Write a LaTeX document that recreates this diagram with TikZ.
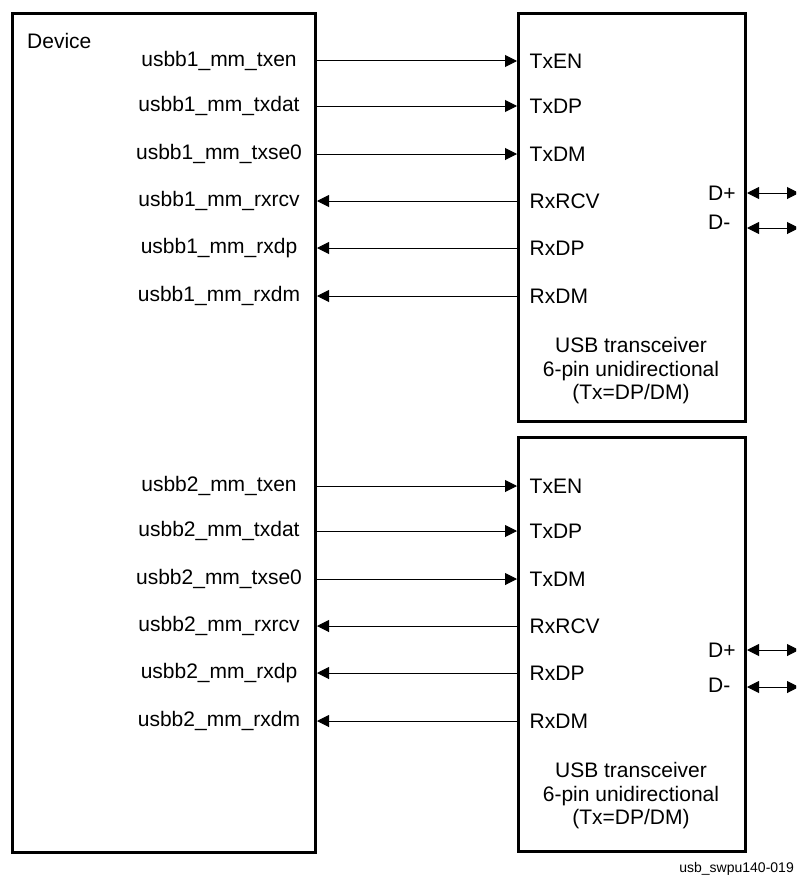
\documentclass[tikz,border=0pt]{standalone}
\usepackage{fontspec}
\setmainfont{Liberation Sans}
\usetikzlibrary{arrows.meta,positioning,calc}

\begin{document}
\begin{tikzpicture}[x=1pt,y=-1pt,
    box/.style={draw,line width=3pt,anchor=north west,inner sep=0pt,outer sep=1.5pt},
    txt/.style={font=\fontsize{21}{23.5}\selectfont,inner sep=0pt},
    pin/.style={txt,anchor=west,inner xsep=12.5pt},
    conn/.style={line width=1pt},
    tx/.style={conn,-{Triangle[length=12pt,width=12pt]}},
    rx/.style={conn,{Triangle[length=12pt,width=12pt]}-},
    bi/.style={conn,{Triangle[length=12pt,width=12pt]}-{Triangle[length=12pt,width=12pt]}}
  ]
  \useasboundingbox (0,0) rectangle (796,875);
  \clip (0,0) rectangle (796,875);
  \node[box,minimum width=303pt,minimum height=839pt] (Dev) at (11,12) {};
  \node[box,minimum width=227pt,minimum height=408pt] (T1) at (517,12) {};
  \node[box,minimum width=227pt,minimum height=414pt] (T2) at (517,436) {};
  \node[txt,anchor=west] (DevLbl) at (27,41) {Device};
  % signals of both transceivers
  \foreach \k/\off in {1/0,2/425} {
    \foreach \sig/\pn/\y/\dir in {txen/TxEN/61/tx,txdat/TxDP/106/tx,txse0/TxDM/154/tx,
                                  rxrcv/RxRCV/201/rx,rxdp/RxDP/248/rx,rxdm/RxDM/296/rx} {
      \node[txt] (s\k\sig) at (219,\y+\off) {usbb\k\_mm\_\sig};
      \node[pin] (p\k\sig) at (T\k.west |- s\k\sig) {\pn};
      \draw[\dir] (Dev.east |- s\k\sig) -- (T\k.west |- s\k\sig);
    }
  }
  % bus side
  \foreach \k/\yp/\ym/\ylp/\ylm/\yt in {1/193/228/193/222/371,2/650/687/650/685/796} {
    \node[txt,anchor=west] (DP\k) at (708,\ylp) {D+};
    \node[txt,anchor=west] (DM\k) at (708,\ylm) {D-};
    \coordinate (DPend\k) at (799,\yp);
    \coordinate (DMend\k) at (799,\ym);
    \draw[bi] (T\k.east |- DPend\k) -- (DPend\k);
    \draw[bi] (T\k.east |- DMend\k) -- (DMend\k);
    \node[txt,align=center] (Title\k) at (631,\yt)
      {USB transceiver\\6-pin unidirectional\\(Tx=DP/DM)};
  }
  \node[font=\fontsize{14}{16}\selectfont,inner sep=0pt,anchor=east] (FigId) at (794,869) {usb\_swpu140-019};
\end{tikzpicture}
\end{document}
